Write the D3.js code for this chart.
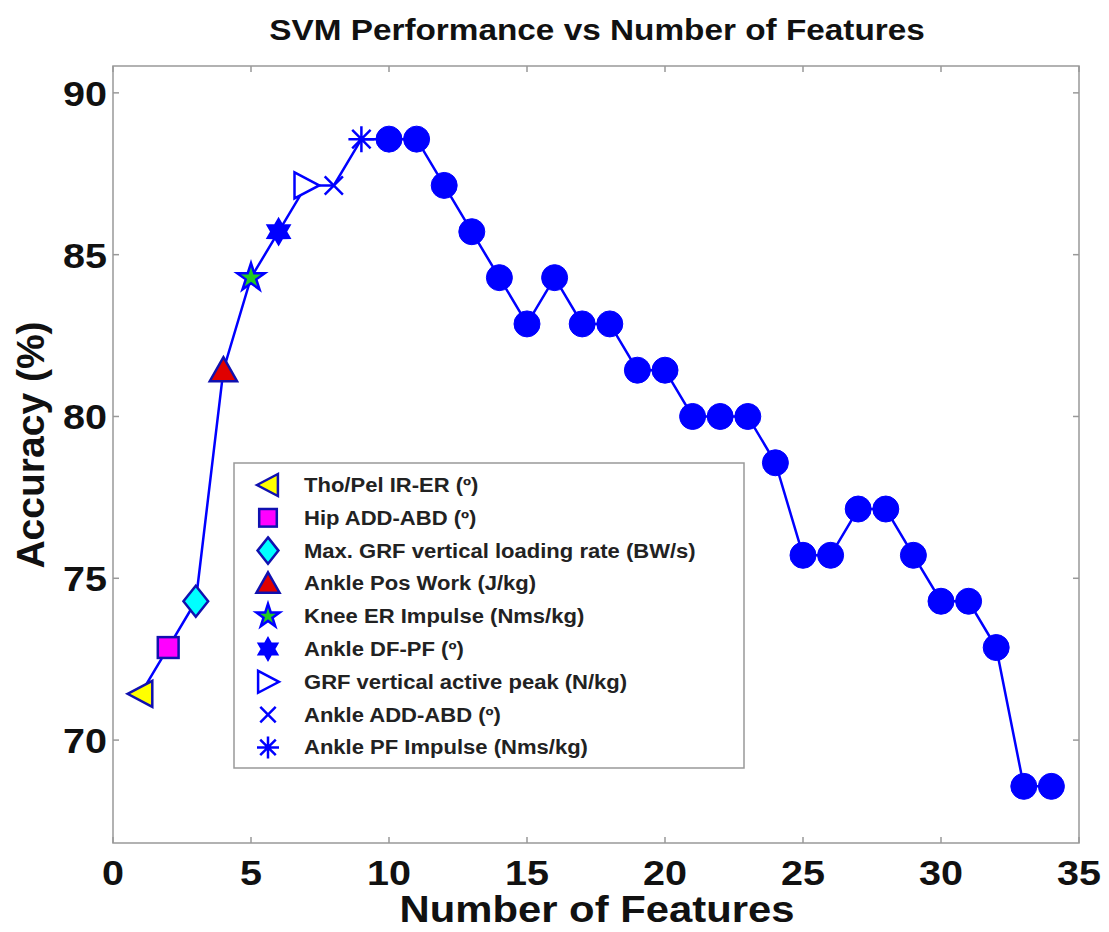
<!DOCTYPE html>
<html><head><meta charset="utf-8">
<script src="https://cdn.jsdelivr.net/npm/d3@7"></script>
<style>body{margin:0;background:#fff}svg{display:block}text{font-family:"Liberation Sans",Arial,sans-serif}</style>
</head><body><svg id="c" width="1109" height="932"></svg>
<script>
const features = d3.range(1, 35);
const accuracy = [71.43,72.86,74.29,81.43,84.29,85.71,87.14,87.14,88.57,88.57,88.57,87.14,85.71,84.29,82.86,84.29,82.86,82.86,81.43,81.43,80,80,80,78.57,75.71,75.71,77.14,77.14,75.71,74.29,74.29,72.86,68.57,68.57];
const legendLabels = ["Tho/Pel IR-ER (º)","Hip ADD-ABD (º)","Max. GRF vertical loading rate (BW/s)","Ankle Pos Work (J/kg)","Knee ER Impulse (Nms/kg)","Ankle DF-PF (º)","GRF vertical active peak (N/kg)","Ankle ADD-ABD (º)","Ankle PF Impulse (Nms/kg)"];
const markerTypes = ["triLeft","square","diamond","triUp","star5","star6","triRight","cross","asterisk"];
const markerFills = ["#ffff00","#ff00ff","#00ffff","#e00000","#22cc22","#0000ff","#ffffff","none","none"];
const xTicks = [0,5,10,15,20,25,30,35];
const yTicks = [70,75,80,85,90];

const svg = d3.select("#c");
const L=113, R=1079, T=66, B=843;
const x = d3.scaleLinear().domain([0,35]).range([L,R]);
const y = d3.scaleLinear().domain([66.82,90.83]).range([B,T]);
const blue = "#0000ff", edge = "#1010b0";
const SX = 1.13;

function txt(px,py,str,size,anchor,fill,rot,sx){
  const s = sx===undefined?SX:sx;
  const g = svg.append("g").attr("transform",`translate(${px},${py}) scale(${s},1)` + (rot?` rotate(${rot})`:""));
  g.append("text").attr("x",0).attr("y",0).attr("text-anchor",anchor).attr("font-size",size).attr("font-weight","bold").attr("fill",fill||"#111").text(str);
  return g;
}

// box
svg.append("rect").attr("x",L).attr("y",T).attr("width",R-L).attr("height",B-T).attr("fill","#fff").attr("stroke","#999").attr("stroke-width",1.5);
// ticks
const tk=6;
xTicks.forEach(t=>{const px=x(t);
 svg.append("line").attr("x1",px).attr("x2",px).attr("y1",B).attr("y2",B-tk).attr("stroke","#999").attr("stroke-width",1.5);
 svg.append("line").attr("x1",px).attr("x2",px).attr("y1",T).attr("y2",T+tk).attr("stroke","#999").attr("stroke-width",1.5);
 txt(px,885,t,35,"middle");
});
yTicks.forEach(t=>{const py=y(t);
 svg.append("line").attr("x1",L).attr("x2",L+tk).attr("y1",py).attr("y2",py).attr("stroke","#999").attr("stroke-width",1.5);
 svg.append("line").attr("x1",R).attr("x2",R-tk).attr("y1",py).attr("y2",py).attr("stroke","#999").attr("stroke-width",1.5);
 txt(L-6,py+13,t,35,"end");
});
txt(597,40,"SVM Performance vs Number of Features",29.5,"middle","#111");
txt(597,922,"Number of Features",37,"middle");
txt(44,445,"Accuracy (%)",39,"middle","#111",-90,1);

// line
const line = d3.line().x((d,i)=>x(features[i])).y(d=>y(d));
svg.append("path").attr("d",line(accuracy)).attr("fill","none").attr("stroke",blue).attr("stroke-width",2.5);

function drawMarker(g,type,fill,s){
  let el;
  if(type==="circle"){el=g.append("circle").attr("r",13).attr("fill",blue).attr("stroke",blue);return;}
  else if(type==="triLeft"){el=g.append("path").attr("d",`M${-s},0L${s*0.9},${-s}L${s*0.9},${s}Z`);}
  else if(type==="triRight"){el=g.append("path").attr("d",`M${s},0L${-s*0.9},${-s}L${-s*0.9},${s}Z`);}
  else if(type==="triUp"){el=g.append("path").attr("d",`M0,${-s}L${s*1.05},${s*0.85}L${-s*1.05},${s*0.85}Z`);}
  else if(type==="square"){const a=s*0.8;el=g.append("rect").attr("x",-a).attr("y",-a).attr("width",2*a).attr("height",2*a);}
  else if(type==="diamond"){el=g.append("path").attr("d",`M0,${-s*1.2}L${s*0.95},0L0,${s*1.2}L${-s*0.95},0Z`);}
  else if(type==="star5"){el=g.append("path").attr("d",d3.symbol(d3.symbolStar,s*s*1.4)());}
  else if(type==="star6"){const pts=[];for(let k=0;k<12;k++){const a=-Math.PI/2+k*Math.PI/6;const r=k%2?s*0.55:s*0.95;pts.push([r*Math.cos(a),r*Math.sin(a)]);}
     el=g.append("path").attr("d","M"+pts.join("L")+"Z");}
  else if(type==="cross"){const a=s*0.7;el=g.append("path").attr("d",`M${-a},${-a}L${a},${a}M${-a},${a}L${a},${-a}`);}
  else if(type==="asterisk"){let d="";for(let k=0;k<4;k++){const a=k*Math.PI/4;d+=`M${-s*Math.cos(a)},${-s*Math.sin(a)}L${s*Math.cos(a)},${s*Math.sin(a)}`;}el=g.append("path").attr("d",d);}
  const blueEdge = ["cross","asterisk","star6","triRight","star5"].includes(type);
  el.attr("fill",fill).attr("stroke",blueEdge?blue:edge).attr("stroke-width",2.5);
}

accuracy.forEach((v,i)=>{
  const g=svg.append("g").attr("transform",`translate(${x(features[i])},${y(v)})`);
  if(i<markerTypes.length) drawMarker(g,markerTypes[i],markerFills[i],13);
  else drawMarker(g,"circle",blue,13);
});

// legend
svg.append("rect").attr("x",234).attr("y",463).attr("width",510).attr("height",305).attr("fill","#fff").attr("stroke","#999").attr("stroke-width",1.5);
legendLabels.forEach((lab,i)=>{
  const cy=485+i*32.8;
  const g=svg.append("g").attr("transform",`translate(268,${cy})`);
  drawMarker(g,markerTypes[i],markerFills[i],11);
  txt(304,cy+7,lab,19.5,"start","#222");
});
</script></body></html>
